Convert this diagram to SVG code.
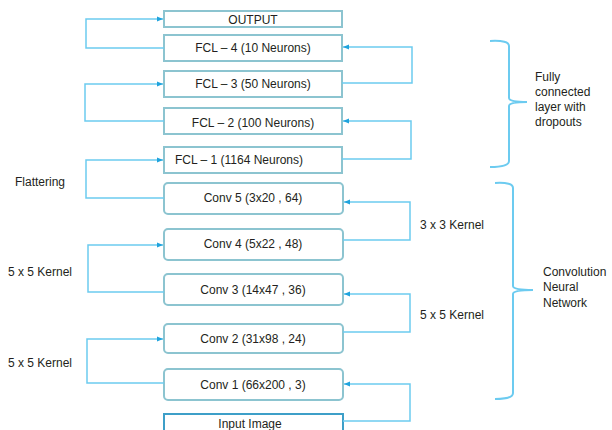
<svg xmlns="http://www.w3.org/2000/svg" width="612" height="430" viewBox="0 0 612 430">
<defs>
<marker id="ah" viewBox="0 0 6 6" refX="6" refY="3" markerWidth="6" markerHeight="6" markerUnits="userSpaceOnUse" orient="auto">
<path d="M0,0.5 L6,3 L0,5.5 z" fill="#1fa3dd"/>
</marker>
<style>
.box{fill:#fff;stroke:#8cc4d0;stroke-width:2}
.inp{fill:#fff;stroke:#3d9fc8;stroke-width:2}
.t{font-family:"Liberation Sans",Arial,sans-serif;font-size:12px;fill:#231f20;text-anchor:middle}
.l{font-family:"Liberation Sans",Arial,sans-serif;font-size:12px;fill:#231f20}
.c{fill:none;stroke:#6ccbf0;stroke-width:1.5;marker-end:url(#ah)}
.br{fill:none;stroke:#6ccbf0;stroke-width:2}
</style>
</defs>
<rect width="612" height="430" fill="#fff"/>
<g id="output"><rect class="box" x="164" y="11" width="178" height="16"/><text class="t" x="253" y="24">OUTPUT</text></g>
<g id="fcl4"><rect class="box" x="164" y="35" width="178" height="26"/><text class="t" x="253" y="52">FCL – 4 (10 Neurons)</text></g>
<g id="fcl3"><rect class="box" x="164" y="71" width="178" height="26"/><text class="t" x="253" y="88">FCL – 3 (50 Neurons)</text></g>
<g id="fcl2"><rect class="box" x="164" y="108" width="178" height="26"/><text class="t" x="253" y="127">FCL – 2 (100 Neurons)</text></g>
<g id="fcl1"><rect class="box" x="164" y="147" width="178" height="26"/><text class="t" x="239" y="164">FCL – 1 (1164 Neurons)</text></g>
<g id="conv5"><rect class="box" x="164" y="183" width="179" height="31" rx="4"/><text class="t" x="253" y="202">Conv 5 (3x20 , 64)</text></g>
<g id="conv4"><rect class="box" x="164" y="229" width="179" height="31" rx="4"/><text class="t" x="253" y="248">Conv 4 (5x22 , 48)</text></g>
<g id="conv3"><rect class="box" x="164" y="274" width="179" height="31" rx="4"/><text class="t" x="253" y="294">Conv 3 (14x47 , 36)</text></g>
<g id="conv2"><rect class="box" x="164" y="324" width="179" height="29" rx="4"/><text class="t" x="253" y="343">Conv 2 (31x98 , 24)</text></g>
<g id="conv1"><rect class="box" x="164" y="369" width="179" height="31" rx="4"/><text class="t" x="253" y="389">Conv 1 (66x200 , 3)</text></g>
<g id="input"><rect class="inp" x="164" y="414" width="179" height="20"/><text class="t" x="250" y="428">Input Image</text></g>
<g id="connectors">
<path class="c" d="M164,48 H86 V19 H163"/>
<path class="c" d="M342,83 H412 V47 H343"/>
<path class="c" d="M164,121 H85 V84 H163"/>
<path class="c" d="M342,159 H411 V121 H343"/>
<path class="c" d="M164,198 H86 V160 H163"/>
<path class="c" d="M343,240 H410 V202 H344"/>
<path class="c" d="M164,292 H88 V245 H163"/>
<path class="c" d="M343,332 H410 V294 H344"/>
<path class="c" d="M164,383 H87 V339 H163"/>
<path class="c" d="M343,421 H410 V384 H344"/>
</g>
<g id="labels">
<text class="l" x="15" y="186">Flattering</text>
<text class="l" x="420" y="229">3 x 3 Kernel</text>
<text class="l" x="8" y="276">5 x 5 Kernel</text>
<text class="l" x="420" y="319">5 x 5 Kernel</text>
<text class="l" x="8" y="367">5 x 5 Kernel</text>
</g>
<g id="brace-fcl">
<path class="br" d="M490,41 Q509,40 509,46 V98 Q509,102 527,102 Q509,102 509,106 V161 Q509,167 490,167"/>
<text class="l" x="535" y="81">Fully</text>
<text class="l" x="535" y="96">connected</text>
<text class="l" x="535" y="111">layer with</text>
<text class="l" x="535" y="126">dropouts</text>
</g>
<g id="brace-cnn">
<path class="br" d="M495,183 Q513,182 513,188 V286 Q513,290 533,290 Q513,290 513,294 V393 Q513,399 495,399"/>
<text class="l" x="543" y="276">Convolution</text>
<text class="l" x="543" y="291">Neural</text>
<text class="l" x="543" y="307">Network</text>
</g>
</svg>
